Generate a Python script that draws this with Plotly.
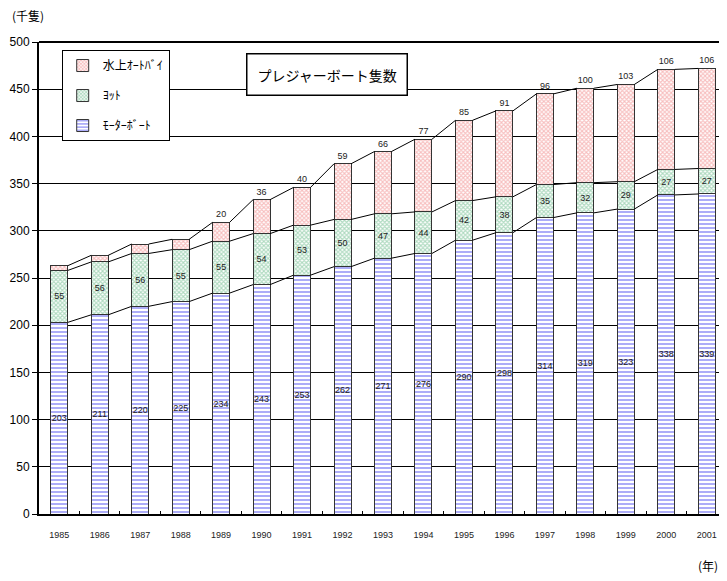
import plotly.graph_objects as go

years = ["1985", "1986", "1987", "1988", "1989", "1990", "1991", "1992", "1993",
         "1994", "1995", "1996", "1997", "1998", "1999", "2000", "2001"]
motorboat = [203, 211, 220, 225, 234, 243, 253, 262, 271, 276, 290, 298, 314, 319, 323, 338, 339]
yacht = [55, 56, 56, 55, 55, 54, 53, 50, 47, 44, 42, 38, 35, 32, 29, 27, 27]
pwc = [5, 7, 10, 11, 20, 36, 40, 59, 66, 77, 85, 91, 96, 100, 103, 106, 106]
# the first four PWC values carry no label in the original
pwc_labels = [""] * 4 + [str(v) for v in pwc[4:]]

xs = list(range(len(years)))
bw = 0.42
narrow = "Liberation Sans Narrow, Arial Narrow, Arial"
jp = "Noto Sans CJK JP"

fig = go.Figure()

fig.add_trace(go.Bar(
    x=xs, y=motorboat, name="ﾓｰﾀｰﾎﾞｰﾄ", width=bw,
    text=[str(v) for v in motorboat], textposition="inside", insidetextanchor="middle",
    textangle=0, constraintext="none",
    textfont=dict(family=narrow, size=9, color="#222"),
    marker=dict(color="white", line=dict(color="#333", width=1),
                pattern=dict(shape="-", fgcolor="#5c5cf2", bgcolor="white", size=4, solidity=0.5)),
    legendgroup="m", legendrank=3,
))
fig.add_trace(go.Bar(
    x=xs, y=yacht, name="ﾖｯﾄ", width=bw,
    text=[str(v) for v in yacht], textposition="inside", insidetextanchor="middle",
    textangle=0, constraintext="none",
    textfont=dict(family=narrow, size=9, color="#222"),
    marker=dict(color="white", line=dict(color="#333", width=1),
                pattern=dict(shape="x", fgcolor="#5fb581", bgcolor="white", size=3, solidity=0.6)),
    legendgroup="y", legendrank=2,
))
fig.add_trace(go.Bar(
    x=xs, y=pwc, name="水上ｵｰﾄﾊﾞｲ", width=bw,
    text=pwc_labels, textposition="outside", textangle=0, constraintext="none",
    textfont=dict(family=narrow, size=9, color="#222"),
    marker=dict(color="white", line=dict(color="#333", width=1),
                pattern=dict(shape="x", fgcolor="#f08080", bgcolor="white", size=3, solidity=0.6)),
    legendgroup="p", legendrank=1,
))

# series lines joining the tops of each segment between adjacent bars
lvl1 = motorboat
lvl2 = [m + y for m, y in zip(motorboat, yacht)]
lvl3 = [a + p for a, p in zip(lvl2, pwc)]
for lvl in (lvl1, lvl2, lvl3):
    lx, ly = [], []
    for i in range(len(xs) - 1):
        lx += [xs[i] + bw / 2, xs[i + 1] - bw / 2, None]
        ly += [lvl[i], lvl[i + 1], None]
    fig.add_trace(go.Scatter(x=lx, y=ly, mode="lines", line=dict(color="black", width=1),
                             showlegend=False, hoverinfo="skip"))

fig.update_layout(
    width=719, height=565,
    barmode="stack",
    plot_bgcolor="white", paper_bgcolor="white",
    margin=dict(l=31, r=0, t=34, b=59),
    font=dict(family="Arial, Liberation Sans", color="black"),
    showlegend=True,
    legend=dict(x=0.033, y=0.983, xanchor="left", yanchor="top",
                traceorder="grouped", tracegroupgap=11, itemwidth=30,
                bgcolor="white", bordercolor="black", borderwidth=1,
                font=dict(family=jp, size=12)),
    xaxis=dict(range=[-0.5, len(years) - 0.5], tickmode="array", tickvals=xs, ticktext=years,
               ticks="", showgrid=False, zeroline=False,
               showline=True, linecolor="black", linewidth=2,
               tickfont=dict(family=narrow, size=9, color="#222"), ticklabelstandoff=11,
               minor=dict(tickvals=[i + 0.5 for i in xs[:-1]], ticks="inside", ticklen=3,
                          tickcolor="black", showgrid=False)),
    yaxis=dict(range=[0, 500], dtick=50, ticks="outside", ticklen=5, tickcolor="black",
               showgrid=True, gridcolor="black", gridwidth=1, zeroline=False,
               showline=True, linecolor="black", linewidth=2,
               tickfont=dict(size=12)),
    shapes=[dict(type="line", xref="paper", yref="paper", x0=0, x1=1, y0=1, y1=1,
                 line=dict(color="black", width=2))],
    annotations=[
        dict(text="プレジャーボート隻数", xref="paper", yref="paper", x=0.419, y=0.932,
             xanchor="center", yanchor="middle",
             showarrow=False, font=dict(family=jp, size=14), bgcolor="white",
             bordercolor="black", borderwidth=1.5, borderpad=10),
        dict(text="(千隻)", xref="paper", yref="paper", x=-0.042, y=1.057,
             xanchor="left", yanchor="middle", showarrow=False, font=dict(family=jp, size=12)),
        dict(text="(年)", xref="paper", yref="paper", x=0.99, y=-0.11,
             xanchor="right", yanchor="middle", showarrow=False, font=dict(family=jp, size=12)),
    ],
)

fig.write_html("out.html")
